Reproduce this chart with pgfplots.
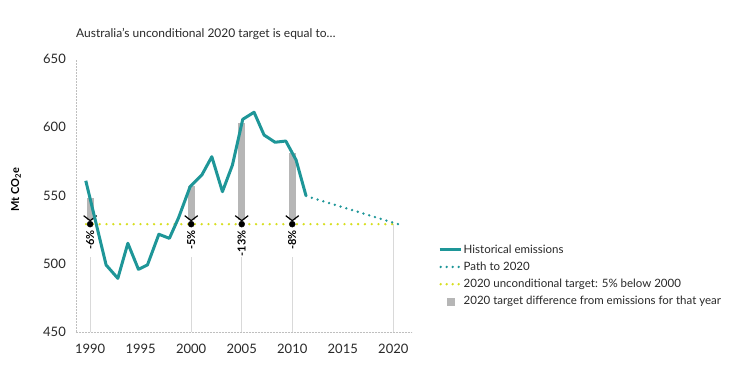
\documentclass[border=0pt]{standalone}
\usepackage{pgfplots}
\pgfplotsset{compat=1.18}
\usetikzlibrary{arrows.meta}
\usepackage{fontspec}
\setmainfont{Lato}
\definecolor{teal1}{RGB}{30,150,152}
\definecolor{ylw}{RGB}{214,222,30}
\definecolor{barg}{RGB}{182,182,182}
\definecolor{txt}{RGB}{40,40,40}
\begin{document}
\begin{tikzpicture}
\begin{axis}[name=ax, scale only axis, width=336pt, height=273pt,
  xmin=1988.6, xmax=2021.85, ymin=450, ymax=650,
  axis x line*=bottom, axis y line*=left,
  axis line style={draw=black!25, densely dotted, line width=0.5pt, -},
  xtick={1990,1995,...,2020}, ytick={450,500,...,650},
  major tick length=0pt,
  /pgf/number format/assume math mode=true,
  /pgf/number format/set thousands separator={},
  ticklabel style={font=\fontsize{13}{15}\selectfont, text=txt},
  yticklabel style={inner sep=0pt, xshift=-10pt},
  xticklabel style={inner sep=0pt, yshift=-12pt},
  clip=false,
  ylabel={Mt CO\textsubscript{2}e},
  ylabel style={at={(axis description cs:-0.1786,0.52)}, anchor=center, font=\bfseries\fontsize{11}{13}\selectfont},
  title={Australia's unconditional 2020 target is equal to\ldots},
  title style={at={(axis description cs:0,1)}, anchor=base west, yshift=15pt, font=\fontsize{12}{14}\selectfont, inner sep=0pt, text=txt},
  legend style={at={(axis description cs:1.0774,0.326)}, anchor=north west, draw=none, fill=none, inner sep=0pt, row sep=4.3pt, font=\fontsize{11.5}{13}\selectfont, text=txt, nodes={inner sep=1.5pt}},
  legend cell align=left,
]
% gray bars with arrow tips
\addplot[forget plot, barg, line width=7pt, -{Straight Barb[black,length=5pt,width=13pt,line width=1.2pt]}] coordinates {(1990,548) (1990,531)};
\addplot[forget plot, barg, line width=7pt, -{Straight Barb[black,length=5pt,width=13pt,line width=1.2pt]}] coordinates {(2000,557) (2000,531)};
\addplot[forget plot, barg, line width=7pt, -{Straight Barb[black,length=5pt,width=13pt,line width=1.2pt]}] coordinates {(2005,603) (2005,531)};
\addplot[forget plot, barg, line width=7pt, -{Straight Barb[black,length=5pt,width=13pt,line width=1.2pt]}] coordinates {(2010,581) (2010,531)};
% thin guide lines
\addplot[forget plot, black!15, line width=0.5pt] coordinates {(1990,450) (1990,505)};
\addplot[forget plot, black!15, line width=0.5pt] coordinates {(2000,450) (2000,505)};
\addplot[forget plot, black!15, line width=0.5pt] coordinates {(2005,450) (2005,505)};
\addplot[forget plot, black!15, line width=0.5pt] coordinates {(2010,450) (2010,505)};
\addplot[forget plot, black!15, line width=0.5pt] coordinates {(2020,450) (2020,529)};
% target line
\addplot[forget plot, ylw, line width=2.6pt, line cap=round, dash pattern=on 0pt off 6.8pt] coordinates {(1989.6,529) (2020.2,529)};
% dots and labels
\addplot[forget plot, only marks, mark=*, mark size=3pt, black, nodes near coords, point meta=explicit symbolic,
  every node near coord/.append style={yshift=-6pt, anchor=east, rotate=90, font=\bfseries\fontsize{11}{13}\selectfont, text=black, inner sep=0pt}]
  coordinates {(1990,529) [-6\%] (2000,529) [-5\%] (2005,529) [-13\%] (2010,529) [-8\%]};
% historical
\addplot[forget plot, teal1, line width=3pt, line join=round] coordinates {
(1989.57,560.8) (1991.58,499.1) (1992.74,489.3) (1993.73,515.0) (1994.78,495.9)
(1995.67,499.1) (1996.80,521.6) (1997.84,518.6) (1998.74,533.5) (1999.89,556.4)
(2001.05,565.0) (2002.04,578.4) (2003.09,552.8) (2004.08,572.3) (2005.10,605.8)
(2006.22,611.0) (2007.21,594.3) (2008.30,589.0) (2009.36,589.9) (2010.38,576.0)
(2011.37,549.6)};
% path to 2020
\addplot[forget plot, teal1, line width=2.6pt, line cap=round, dash pattern=on 0pt off 6pt] coordinates {(2011.37,549.6) (2020.49,529.0)};
% legend
\addlegendimage{legend image code/.code={\draw[teal1, line width=3pt] (0pt,0pt) -- (21pt,0pt);}}
\addlegendentry{Historical emissions}
\addlegendimage{legend image code/.code={\draw[teal1, line width=2.6pt, line cap=round, dash pattern=on 0pt off 6pt] (1pt,0pt) -- (21pt,0pt);}}
\addlegendentry{Path to 2020}
\addlegendimage{legend image code/.code={\draw[ylw, line width=2.6pt, line cap=round, dash pattern=on 0pt off 6pt] (1pt,0pt) -- (21pt,0pt);}}
\addlegendentry{2020 unconditional target: 5\% below 2000}
\addlegendimage{legend image code/.code={\fill[white, opacity=0] (0pt,-1pt) rectangle (21pt,1pt); \fill[barg] (7pt,-3.5pt) rectangle (14pt,3.5pt);}}
\addlegendentry{2020 target difference from emissions for that year}
\end{axis}
\path ([xshift=-76pt,yshift=-57pt]ax.south west) rectangle ([xshift=342pt,yshift=59pt]ax.north east);
\end{tikzpicture}
\end{document}
